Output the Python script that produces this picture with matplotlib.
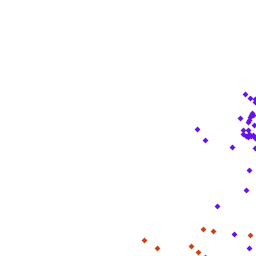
import matplotlib.pyplot as plt

purple_x = [245.3, 250.3, 254.7, 254.7, 252.0, 250.7, 252.7, 250.0, 249.0, 248.0,
            240.3, 254.3, 197.3, 243.3, 248.0, 243.0, 245.7, 249.0, 251.0, 253.3,
            255.0, 248.3, 205.3, 232.3, 255.0, 249.3, 246.3, 217.3, 234.3, 249.3]
purple_y = [94.3, 98.3, 99.0, 102.0, 112.7, 114.7, 115.3, 117.3, 120.0, 122.3,
            118.3, 125.0, 129.3, 130.3, 129.7, 134.3, 136.0, 134.3, 136.0, 135.0,
            137.7, 136.7, 140.3, 147.3, 148.3, 169.8, 190.3, 206.3, 234.3, 248.3]

orange_x = [144.3, 157.3, 191.3, 198.3, 203.3, 213.3, 250.3, 205.3]
orange_y = [240.3, 248.3, 246.3, 252.3, 229.3, 231.3, 235.3, 257.0]

fig = plt.figure(figsize=(2.56, 2.56), dpi=100)
ax = fig.add_axes([0, 0, 1, 1])
ax.scatter(purple_x, purple_y, marker="D", s=9, color="#6414e4", linewidths=0)
ax.scatter(orange_x, orange_y, marker="D", s=9, color="#cc4416", linewidths=0)
ax.set_xlim(0, 256)
ax.set_ylim(256, 0)
ax.axis("off")
fig.savefig("out.png", dpi=100)
